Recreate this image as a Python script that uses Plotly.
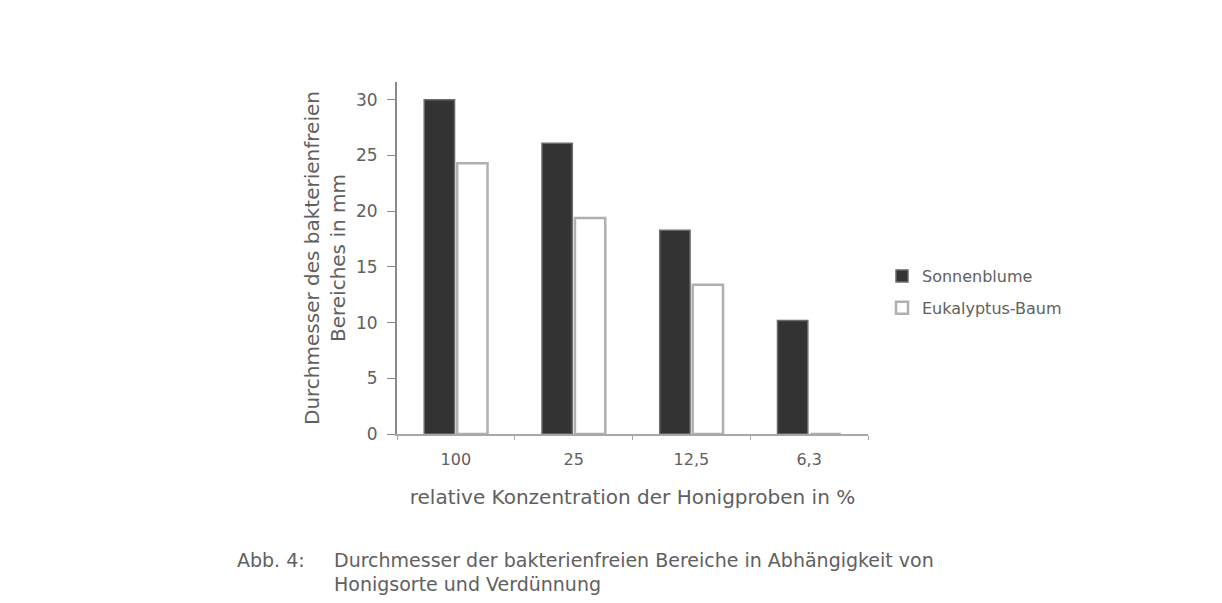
import plotly.graph_objects as go

# Verdünnungsstufen (x-Achse)
konzentration = ["100", "25", "12,5", "6,3"]
# Durchmesser in mm
sonnenblume = [30.0, 26.1, 18.3, 10.2]
eukalyptus = [24.3, 19.4, 13.4, 0]

text_col = "#606060"
font_name = "DejaVu Sans"

# Plotbereich auf dem Bildschirm (Pixel), für die Platzierung der Texte
X0, X1, Y0, Y1 = 397, 868, 82, 434


def px(x):
    return (x - X0) / (X1 - X0)


def py(y):
    return (Y1 - y) / (Y1 - Y0)


fig = go.Figure()
fig.add_trace(go.Bar(
    x=konzentration, y=sonnenblume, name="Sonnenblume", legendgroup="a",
    marker=dict(color="#333333", line=dict(color="#6a6a6a", width=1.5)),
))
fig.add_trace(go.Bar(
    x=konzentration, y=eukalyptus, name="Eukalyptus-Baum", legendgroup="b",
    marker=dict(color="#ffffff", line=dict(color="#b0b0b0", width=2.5)),
))

# y-Achsentitel (zweizeilig, gedreht)
fig.add_annotation(
    text="Durchmesser des bakterienfreien<br>Bereiches in mm",
    xref="paper", yref="paper", x=px(325), y=0.5, xanchor="center", yanchor="middle",
    textangle=-90, showarrow=False, font=dict(size=20, color=text_col),
)
# Bildunterschrift
fig.add_annotation(
    text="Abb. 4:", xref="paper", yref="paper", x=px(235), y=py(560),
    xanchor="left", yanchor="middle", showarrow=False, font=dict(size=19, color=text_col),
)
fig.add_annotation(
    text="Durchmesser der bakterienfreien Bereiche in Abhängigkeit von",
    xref="paper", yref="paper", x=px(332), y=py(560),
    xanchor="left", yanchor="middle", showarrow=False, font=dict(size=19, color=text_col),
)
fig.add_annotation(
    text="Honigsorte und Verdünnung",
    xref="paper", yref="paper", x=px(332), y=py(584),
    xanchor="left", yanchor="middle", showarrow=False, font=dict(size=19, color=text_col),
)

fig.update_layout(
    width=1222, height=603,
    margin=dict(l=389, r=362, t=74, b=177),
    paper_bgcolor="white", plot_bgcolor="white",
    font=dict(family=font_name, size=16, color=text_col),
    barmode="group", bargap=0.44, bargroupgap=0.08,
    showlegend=True,
    legend=dict(x=px(882), y=py(259), xanchor="left", yanchor="top",
                traceorder="grouped", tracegroupgap=8,
                font=dict(size=16, color=text_col), itemwidth=30),
    xaxis=dict(
        title=dict(text="relative Konzentration der Honigproben in %", font=dict(size=20), standoff=22),
        showline=True, linecolor="#a8a8a8", linewidth=2,
        ticks="outside", tickson="boundaries", ticklen=4, tickcolor="#a8a8a8",
        ticklabelstandoff=10, showgrid=False, automargin=False,
    ),
    yaxis=dict(
        range=[0, 31.6], tickvals=[0, 5, 10, 15, 20, 25, 30],
        showline=True, linecolor="#8a8a8a", linewidth=2,
        ticks="outside", ticklen=8, tickcolor="#8a8a8a", ticklabelstandoff=6,
        showgrid=False, zeroline=False, automargin=False,
        tickfont=dict(size=17),
    ),
)

fig.write_html("out.html")
